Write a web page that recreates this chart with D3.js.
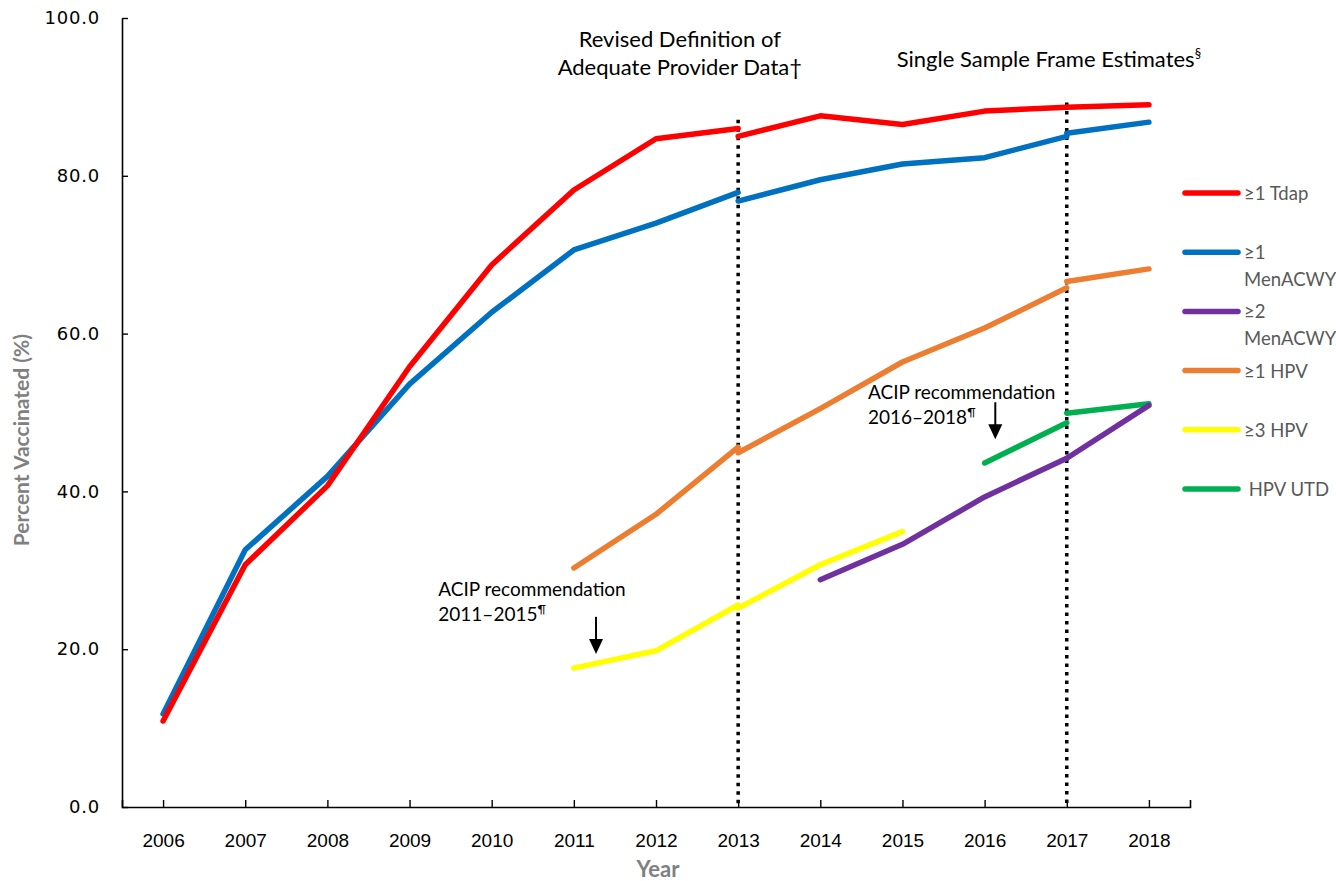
<!DOCTYPE html>
<html>
<head>
<meta charset="utf-8">
<title>Vaccination coverage among adolescents, 2006–2018</title>
<script src="https://cdn.jsdelivr.net/npm/d3@7"></script>
<style>
	body { margin: 0; background: #fff; }
	#chart svg { display: block; }
</style>
</head>
<body>
<div id="chart"></div>
<script>
(function () { // keep things out of global scope
'use strict';

// years on the category axis
var years = [2006, 2007, 2008, 2009, 2010, 2011, 2012, 2013, 2014, 2015, 2016, 2017, 2018];
var yTicks = [0, 20, 40, 60, 80, 100];

// each series is broken at 2013 (revised provider data) and 2017 (single sample frame)
// ≥1 Tdap
var tdapStart = [2006, 2013, 2017];
var tdapValues = [
	[10.9, 30.7, 40.7, 55.8, 68.7, 78.2, 84.7, 86.0],
	[85.0, 87.6, 86.5, 88.2, 88.7],
	[88.7, 89.0]
];
// ≥1 MenACWY
var menacwy1Start = [2006, 2013, 2017];
var menacwy1Values = [
	[11.8, 32.6, 41.9, 53.6, 62.7, 70.6, 74.0, 77.9],
	[76.8, 79.5, 81.5, 82.3, 85.0],
	[85.4, 86.8]
];
// ≥2 MenACWY
var menacwy2Start = [2014, 2017];
var menacwy2Values = [
	[28.8, 33.3, 39.3, 44.2],
	[44.2, 50.9]
];
// ≥1 HPV
var hpv1Start = [2011, 2013, 2017];
var hpv1Values = [
	[30.3, 37.1, 45.6],
	[44.9, 50.5, 56.4, 60.7, 65.8],
	[66.6, 68.2]
];
// ≥3 HPV
var hpv3Start = [2011, 2013];
var hpv3Values = [
	[17.6, 19.8, 25.6],
	[25.2, 30.7, 34.9]
];
// HPV UTD
var hpvUtdStart = [2016, 2017];
var hpvUtdValues = [
	[43.6, 48.7],
	[49.9, 51.1]
];

var seriesNames = ['≥1 Tdap', '≥1 MenACWY', '≥2 MenACWY', '≥1 HPV', '≥3 HPV', 'HPV UTD'];
var seriesColors = ['#ff0000', '#0070c0', '#7030a0', '#ed7d31', '#ffff00', '#00b050'];
var seriesStarts = [tdapStart, menacwy1Start, menacwy2Start, hpv1Start, hpv3Start, hpvUtdStart];
var seriesValues = [tdapValues, menacwy1Values, menacwy2Values, hpv1Values, hpv3Values, hpvUtdValues];
// legend text, some labels wrap onto two lines
var legendLines = [['≥1 Tdap'], ['≥1', 'MenACWY'], ['≥2', 'MenACWY'], ['≥1 HPV'], ['≥3 HPV'], [' HPV UTD']];

// the two method changes, marked with dotted lines
var breakYears = [2013, 2017];
var breakTops = [87.1, 89.3];

var width = 1336, height = 881;
var margin = {top: 18, right: 146, bottom: 74, left: 122};

var svg = d3.select('#chart').append('svg')
	.attr('width', width)
	.attr('height', height);

var x = d3.scaleLinear()
	.domain([2005.5, 2018.5])
	.range([margin.left, width - margin.right]);
var y = d3.scaleLinear()
	.domain([0, 100])
	.range([height - margin.bottom, margin.top]);

var textFont = 'Lato, "Open Sans", sans-serif';

// ---- axes
var yAxis = d3.axisLeft(y)
	.tickValues(yTicks)
	.tickSizeInner(-6)
	.tickSizeOuter(0)
	.tickPadding(22)
	.tickFormat(d3.format('.1f'));
var yAxisG = svg.append('g')
	.attr('transform', 'translate(' + margin.left + ',0)')
	.call(yAxis);
yAxisG.select('.domain').attr('stroke', '#000').attr('stroke-width', 1.6);
yAxisG.selectAll('.tick line').attr('stroke', '#000').attr('stroke-width', 1.4);
yAxisG.selectAll('.tick text')
	.attr('font-family', '"DejaVu Sans", Verdana, sans-serif')
	.attr('font-size', 18)
	.attr('letter-spacing', 0.8)
	.attr('fill', '#000');

var xAxis = d3.axisBottom(x)
	.tickValues(years)
	.tickSizeInner(-7)
	.tickSizeOuter(-7)
	.tickPadding(27)
	.tickFormat(d3.format('d'));
var xAxisG = svg.append('g')
	.attr('transform', 'translate(0,' + y(0) + ')')
	.call(xAxis);
xAxisG.select('.domain').attr('stroke', '#000').attr('stroke-width', 1.6);
xAxisG.selectAll('.tick line').attr('stroke', '#000').attr('stroke-width', 1.4);
xAxisG.selectAll('.tick text')
	.attr('font-family', '"Liberation Sans", Arial, sans-serif')
	.attr('font-size', 19)
	.attr('fill', '#000');

// axis titles
svg.append('text')
	.attr('transform', 'translate(29,' + y(46.5) + ') rotate(-90)')
	.attr('text-anchor', 'middle')
	.attr('font-family', textFont)
	.attr('font-weight', 'bold')
	.attr('font-size', 21)
	.attr('fill', '#808080')
	.text('Percent Vaccinated (%)');
svg.append('text')
	.attr('x', x(2012) + 2)
	.attr('y', height - 4)
	.attr('text-anchor', 'middle')
	.attr('font-family', textFont)
	.attr('font-weight', 'bold')
	.attr('font-size', 22)
	.attr('fill', '#808080')
	.text('Year');

// ---- dotted break lines
svg.selectAll('line.break')
	.data(breakYears)
	.enter().append('line')
		.attr('class', 'break')
		.attr('x1', function(d){ return x(d); })
		.attr('x2', function(d){ return x(d); })
		.attr('y1', function(d, i){ return y(breakTops[i]); })
		.attr('y2', y(0))
		.attr('stroke', '#000')
		.attr('stroke-width', 3.5)
		.attr('stroke-dasharray', '3.5,5');

// ---- series lines
var line = d3.line()
	.x(function(d){ return x(d.year); })
	.y(function(d){ return y(d.value); });

var segments = [];
seriesValues.forEach(function(parts, s){
	parts.forEach(function(vals, p){
		var start = seriesStarts[s][p];
		segments.push({
			color: seriesColors[s],
			points: vals.map(function(v, k){ return {year: start + k, value: v}; })
		});
	});
});
// draw in reverse so that Tdap ends up on top, as in the original
segments.reverse();

svg.append('g').selectAll('path')
	.data(segments)
	.enter().append('path')
		.attr('d', function(d){ return line(d.points); })
		.attr('fill', 'none')
		.attr('stroke', function(d){ return d.color; })
		.attr('stroke-width', 5.5)
		.attr('stroke-linecap', 'round')
		.attr('stroke-linejoin', 'round');

// ---- annotations
var annot = svg.append('g')
	.attr('font-family', textFont)
	.attr('font-size', 22)
	.attr('fill', '#000');

annot.append('text')
	.attr('x', x(2012.29))
	.attr('y', 47)
	.attr('text-anchor', 'middle')
	.text('Revised Definition of');
annot.append('text')
	.attr('x', x(2012.29))
	.attr('y', 75)
	.attr('text-anchor', 'middle')
	.text('Adequate Provider Data†');

var ssf = annot.append('text')
	.attr('x', x(2014.93))
	.attr('y', 67);
ssf.append('tspan').text('Single Sample Frame Estimates');
ssf.append('tspan').attr('font-size', 13).attr('dy', -9).text('§');

function acipNote(xYear, topValue, range){
	annot.append('text')
		.attr('x', x(xYear))
		.attr('y', y(topValue))
		.attr('font-size', 19)
		.text('ACIP recommendation');
	var t = annot.append('text')
		.attr('x', x(xYear))
		.attr('y', y(topValue) + 25)
		.attr('font-size', 19);
	t.append('tspan').text(range);
	t.append('tspan').attr('font-size', 12).attr('dy', -8).text('¶');
}
acipNote(2009.35, 26.8, '2011–2015');
acipNote(2014.58, 51.7, '2016–2018');

// arrows pointing down at the lines
var arrows = [
	{year: 2011.27, from: 24.1, to: 19.4},
	{year: 2016.13, from: 51.3, to: 46.6}
];
arrows.forEach(function(a){
	var ax = x(a.year), y0 = y(a.from), y1 = y(a.to);
	annot.append('line')
		.attr('x1', ax).attr('x2', ax)
		.attr('y1', y0).attr('y2', y1 - 12)
		.attr('stroke', '#000')
		.attr('stroke-width', 2);
	annot.append('path')
		.attr('d', 'M' + (ax - 7) + ',' + (y1 - 15) + 'L' + (ax + 7) + ',' + (y1 - 15) + 'L' + ax + ',' + y1 + 'Z')
		.attr('fill', '#000');
});

// ---- legend
var legendY = d3.scalePoint()
	.domain(seriesNames)
	.range([193, 489]);

var legend = svg.append('g')
	.attr('font-family', textFont)
	.attr('font-size', 18.5)
	.attr('fill', '#595959');

seriesNames.forEach(function(name, i){
	var ly = legendY(name);
	legend.append('line')
		.attr('x1', 1185).attr('x2', 1238)
		.attr('y1', ly).attr('y2', ly)
		.attr('stroke', seriesColors[i])
		.attr('stroke-width', 5.5)
		.attr('stroke-linecap', 'round');
	legendLines[i].forEach(function(txt, k){
		legend.append('text')
			.attr('x', 1244)
			.attr('y', ly + 7 + k * 27)
			.attr('xml:space', 'preserve')
			.style('white-space', 'pre')
			.text(txt);
	});
});

console.log('[chart] drew %d segments', segments.length);

}()); // end of 'use strict';
</script>
</body>
</html>
